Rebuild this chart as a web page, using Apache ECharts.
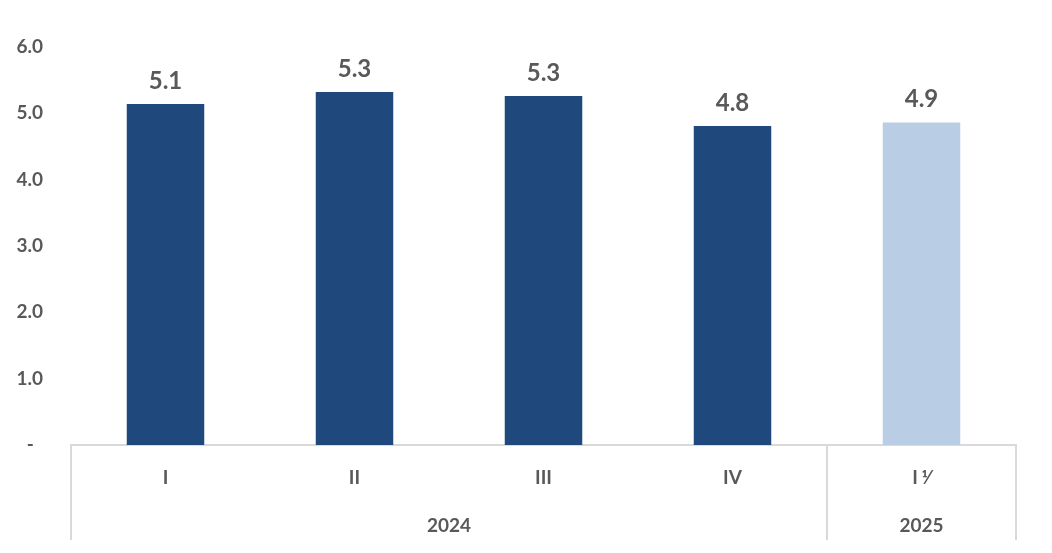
<!DOCTYPE html>
<html>
<head>
<meta charset="utf-8">
<script src="https://cdn.jsdelivr.net/npm/echarts@6/dist/echarts.min.js"></script>
<style>html,body{margin:0;padding:0;background:#fff}#c{width:1052px;height:553px}</style>
</head>
<body>
<div id="c"></div>
<script>
const quarters = ['I', 'II', 'III', 'IV', 'I ⅟'];
const values = [5.14, 5.32, 5.26, 4.81, 4.86];
const preliminary = [false, false, false, false, true];
const years = ['2024', '2025'];
const yearSpans = [4, 1];
const yTicks = [0, 1, 2, 3, 4, 5, 6];

const DARK = '#1F497D', LIGHT = '#B9CDE5', TXT = '#595959', LINE = '#D9D9D9';
const FONT = 'Lato, "Open Sans", sans-serif';

const yearBorders = [0];
yearSpans.forEach(s => yearBorders.push(yearBorders[yearBorders.length - 1] + s));
const yearCentres = yearSpans.map((s, i) => yearBorders[i] + s / 2);

const chart = echarts.init(document.getElementById('c'));
chart.setOption({
  animation: false,
  grid: { left: 71, right: 36, top: 47, bottom: 108 },
  xAxis: [{
    type: 'category',
    data: quarters,
    axisLine: { show: true, lineStyle: { color: LINE, width: 2 } },
    axisTick: { show: false },
    axisLabel: { color: TXT, fontSize: 19, fontWeight: 'bold', fontFamily: FONT, margin: 23 }
  }, {
    type: 'value',
    position: 'bottom',
    min: 0, max: yearBorders[yearBorders.length - 1],
    axisLine: { show: false },
    splitLine: { show: false },
    axisTick: { show: true, inside: false, length: 95, customValues: yearBorders, lineStyle: { color: LINE, width: 2 } },
    axisLabel: {
      customValues: yearCentres,
      formatter: v => { const i = yearCentres.indexOf(v); return i >= 0 ? years[i] : ''; },
      color: TXT, fontSize: 19, fontWeight: 'bold', fontFamily: FONT, margin: 71
    }
  }],
  yAxis: {
    type: 'value',
    min: yTicks[0], max: yTicks[yTicks.length - 1], interval: 1,
    axisLine: { show: false },
    axisTick: { show: false },
    splitLine: { show: false },
    axisLabel: {
      color: TXT, fontSize: 19, fontWeight: 'bold', fontFamily: FONT, margin: 28,
      formatter: v => v === 0 ? '-  ' : v.toFixed(1)
    }
  },
  series: [{
    type: 'bar',
    xAxisIndex: 0,
    barWidth: '41%',
    data: values.map((v, i) => ({ value: v, itemStyle: { color: preliminary[i] ? LIGHT : DARK } })),
    label: {
      show: true, position: 'top', distance: 11,
      color: TXT, fontSize: 24, fontWeight: 'bold', fontFamily: FONT,
      formatter: p => p.value.toFixed(1)
    }
  }]
});
</script>
</body>
</html>
